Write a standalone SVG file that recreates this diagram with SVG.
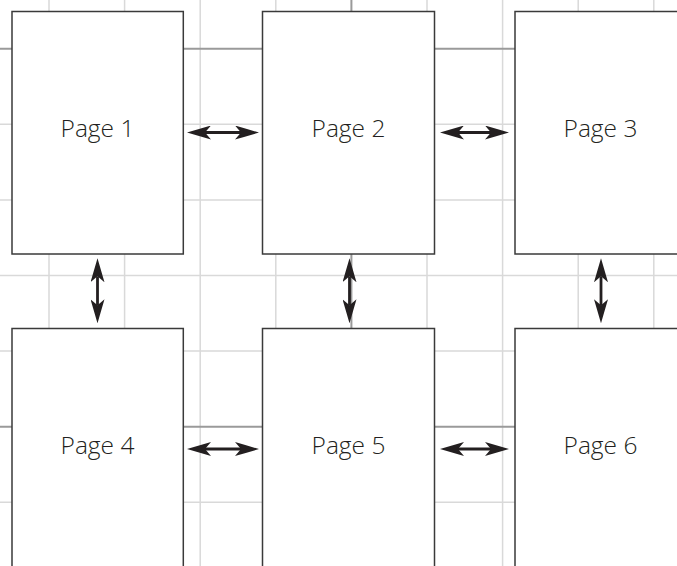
<svg xmlns="http://www.w3.org/2000/svg" width="677" height="566" viewBox="0 0 677 566">
<style>
.g{stroke:#d9d9d9;stroke-width:1.5;fill:none}
.gd{stroke:#9a9a9a;stroke-width:2;fill:none}
.box{fill:#ffffff;stroke:#3a3a3a;stroke-width:1.5}
.lbl{font-family:"Open Sans","Noto Sans","Liberation Sans",sans-serif;font-size:24.5px;font-weight:350;fill:#231f20;text-anchor:middle}
.ar{stroke:#231f20;stroke-width:2.8;fill:none;marker-start:url(#ah);marker-end:url(#ah)}
</style>
<defs>
<marker id="ah" viewBox="0 0 24 14" refX="6" refY="7" markerWidth="24" markerHeight="14" markerUnits="userSpaceOnUse" orient="auto-start-reverse">
<path d="M24,7 Q12,3.5 0,0 L6,7 L0,14 Q12,10.5 24,7 Z" fill="#231f20"/>
</marker>
</defs>
<rect width="677" height="566" fill="#ffffff"/>
<g id="grid">
<path class="g" d="M49,0V566M124.6,0V566M200.2,0V566M275.8,0V566M427,0V566M502.6,0V566M578.2,0V566M653.8,0V566"/>
<path class="g" d="M0,124.3H677M0,199.9H677M0,275.5H677M0,351.1H677M0,502.3H677"/>
<path class="gd" d="M351.4,0V566M0,48.7H677M0,426.7H677"/>
</g>
<g id="page1"><rect class="box" x="12" y="11.5" width="171.3" height="242.5"/><text class="lbl" x="97.5" y="137">Page 1</text></g>
<g id="page2"><rect class="box" x="262.5" y="11.5" width="172" height="242.5"/><text class="lbl" x="348.5" y="137">Page 2</text></g>
<g id="page3"><rect class="box" x="515" y="11.5" width="172" height="242.5"/><text class="lbl" x="600.5" y="137">Page 3</text></g>
<g id="page4"><rect class="box" x="12" y="328.5" width="171.3" height="260"/><text class="lbl" x="97.5" y="453.5">Page 4</text></g>
<g id="page5"><rect class="box" x="262.5" y="328.5" width="172" height="260"/><text class="lbl" x="348.5" y="453.5">Page 5</text></g>
<g id="page6"><rect class="box" x="515" y="328.5" width="172" height="260"/><text class="lbl" x="600.5" y="453.5">Page 6</text></g>
<g id="connectors">
<line class="ar" x1="205" y1="132.5" x2="241" y2="132.5"/>
<line class="ar" x1="458" y1="132.5" x2="491" y2="132.5"/>
<line class="ar" x1="205" y1="449" x2="241" y2="449"/>
<line class="ar" x1="458" y1="449" x2="491" y2="449"/>
<line class="ar" x1="97.5" y1="276.3" x2="97.5" y2="305.3"/>
<line class="ar" x1="349.5" y1="276.3" x2="349.5" y2="305.3"/>
<line class="ar" x1="601" y1="276.3" x2="601" y2="305.3"/>
</g>
</svg>
